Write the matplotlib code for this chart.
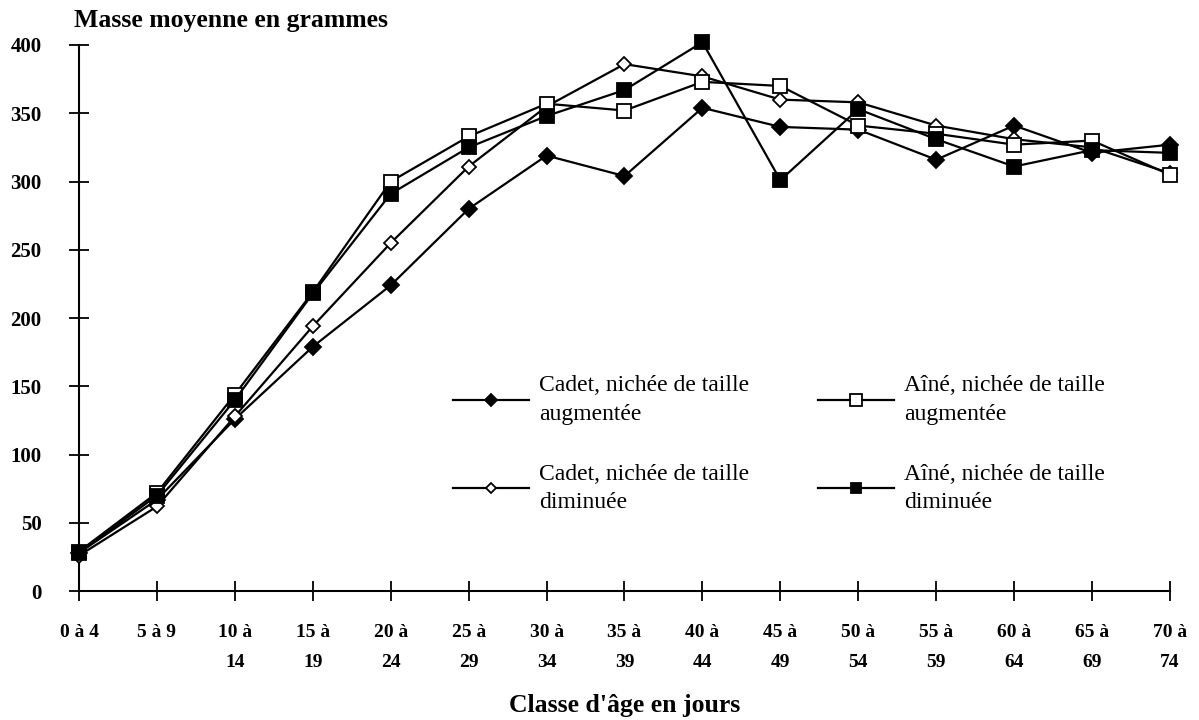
import matplotlib
matplotlib.use("Agg")
import matplotlib.pyplot as plt

# Age classes (days)
classes = ["0 à 4", "5 à 9", "10 à\n14", "15 à\n19", "20 à\n24", "25 à\n29", "30 à\n34",
           "35 à\n39", "40 à\n44", "45 à\n49", "50 à\n54", "55 à\n59", "60 à\n64",
           "65 à\n69", "70 à\n74"]

# Mean mass (g) per age class
cadet_augmentee = [28, 67, 126, 179, 224, 280, 319, 304, 354, 340, 338, 316, 341, 321, 327]
cadet_diminuee = [26, 62, 128, 194, 255, 311, 355, 386, 377, 360, 358, 341, 331, 325, 306]
aine_augmentee = [29, 72, 144, 219, 300, 333, 357, 352, 373, 370, 341, 335, 327, 330, 305]
aine_diminuee = [28, 70, 140, 218, 291, 325, 348, 367, 402, 301, 353, 331, 311, 323, 321]

yticks = [0, 50, 100, 150, 200, 250, 300, 350, 400]

plt.rcParams["font.family"] = ["Liberation Serif", "DejaVu Serif"]

fig = plt.figure(figsize=(11.99, 7.2), dpi=100)
ax = fig.add_axes([0.0659, 0.179, 0.9099, 0.7585])

x = list(range(len(classes)))
lw = 1.6
series = [
    (cadet_augmentee, "Cadet, nichée de taille\naugmentée", "D", "black", 8),
    (cadet_diminuee, "Cadet, nichée de taille\ndiminuée", "D", "white", 7),
    (aine_augmentee, "Aîné, nichée de taille\naugmentée", "s", "white", 10),
    (aine_diminuee, "Aîné, nichée de taille\ndiminuée", "s", "black", 9.5),
]
for vals, lab, mk, fc, ms in series:
    ax.plot(x, vals, color="black", lw=lw, marker=mk, markersize=ms,
            markerfacecolor=fc, markeredgecolor="black", markeredgewidth=1.3,
            label=lab, clip_on=False, zorder=3)

ax.set_xlim(0, len(classes) - 1)
ax.set_ylim(0, 400)
ax.set_xticks(x)
ax.set_xticklabels(classes, fontweight="bold", fontsize=14, linespacing=2.0)
ax.set_yticks(yticks)
ax.set_yticklabels([str(v) for v in yticks], fontweight="bold", fontsize=15)

for s in ("top", "right"):
    ax.spines[s].set_visible(False)
for s in ("left", "bottom"):
    ax.spines[s].set_linewidth(1.5)
ax.tick_params(axis="both", direction="inout", length=14, width=1.3)
ax.tick_params(axis="x", pad=17)
ax.tick_params(axis="y", pad=20)

fig.text(0.062, 0.972, "Masse moyenne en grammes", fontweight="bold", fontsize=18.5,
         ha="left", va="center")
ax.set_xlabel("Classe d'âge en jours", fontweight="bold", fontsize=18.5, labelpad=16)

leg = ax.legend(ncol=2, frameon=False, loc="upper left", bbox_to_anchor=(0.343, 0.395),
                fontsize=17, handlelength=3.2, markerscale=0.8, columnspacing=2.9,
                labelspacing=1.65, handletextpad=0.45, borderpad=0, borderaxespad=0)
for t in leg.get_texts():
    t.set_linespacing(1.45)

fig.savefig("out.png", dpi=100, facecolor="white")
